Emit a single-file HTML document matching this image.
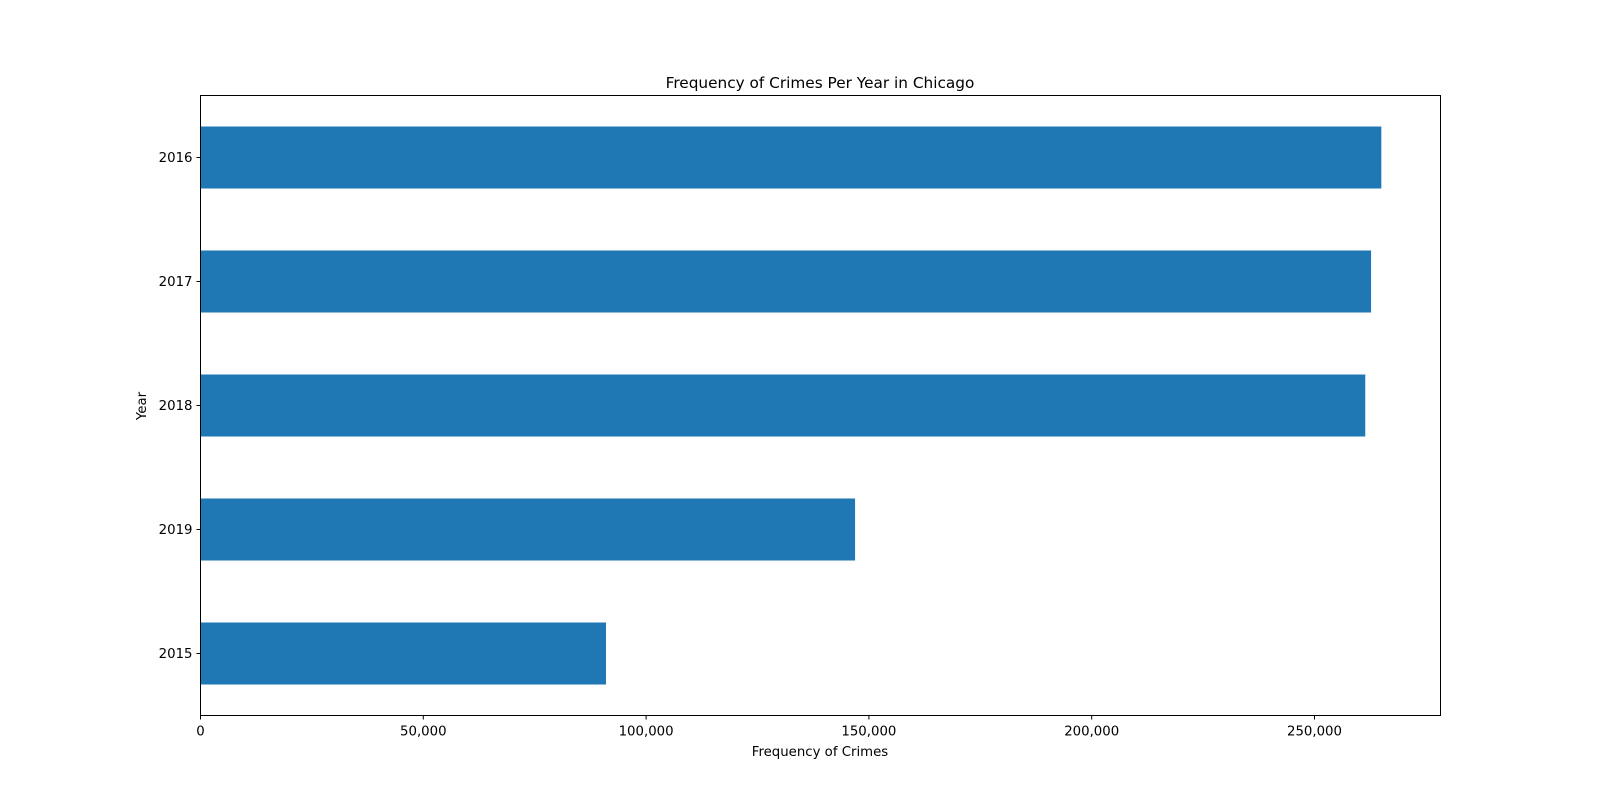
<!DOCTYPE html>
<html><head><meta charset="utf-8"><style>
html,body{margin:0;padding:0;background:#fff;width:1600px;height:803px;overflow:hidden;}
svg{display:block;}
svg text{font-family:"DejaVu Sans","Liberation Sans",sans-serif;fill:#000;}
</style></head><body>
<svg id="chart" width="1600" height="803">
<text x="820" y="88" font-size="15.3" text-anchor="middle">Frequency of Crimes Per Year in Chicago</text>
<g id="bars"></g>
<g id="xticks"></g>
<g id="yticks"></g>
<rect x="200.5" y="95.5" width="1240" height="620" fill="none" stroke="#000" stroke-width="1"/>
<text x="820" y="756" font-size="13.3" text-anchor="middle">Frequency of Crimes</text>
<text x="146" y="406" font-size="13.3" text-anchor="middle" transform="rotate(-90 146 406)">Year</text>
</svg>
<script>
const categories = ["2016","2017","2018","2019","2015"];
const values = [265000, 262700, 261400, 146900, 91000];
const xTicks = [0, 50000, 100000, 150000, 200000, 250000];
const xTickLabels = ["0","50,000","100,000","150,000","200,000","250,000"];
const xMax = 278280;

const L=200.5, R=1440.5, T=95.5, B=715.5;
const NS="http://www.w3.org/2000/svg";
const xs = v => L + v/xMax*(R-L);
const step = (B-T)/categories.length;
const ys = i => T + step*(i+0.5);
const bh = step*0.5;
function mk(tag, attrs, parent){const e=document.createElementNS(NS,tag);for(const k in attrs)e.setAttribute(k,attrs[k]);parent.appendChild(e);return e;}
const gb=document.getElementById('bars'), gx=document.getElementById('xticks'), gy=document.getElementById('yticks');
categories.forEach((c,i)=>{
  const r=mk('rect',{x:L,y:ys(i)-bh/2,width:xs(values[i])-L,height:bh,fill:'#1f77b4'},gb);
  
  
  const t=mk('line',{x1:L-4,x2:L,y1:ys(i),y2:ys(i),stroke:'#000'},gy);
  
  
  const tx=mk('text',{x:L-8,y:ys(i)+4.6,'font-size':13.3,'text-anchor':'end'},gy);
  tx.textContent=c;
  
  
});
xTicks.forEach((v,i)=>{
  const t=mk('line',{x1:xs(v),x2:xs(v),y1:B,y2:B+4,stroke:'#000'},gx);
  
  
  const tx=mk('text',{x:xs(v),y:B+20,'font-size':13.3,'text-anchor':'middle'},gx);
  tx.textContent=xTickLabels[i];
  
  
});
</script>
</body></html>
